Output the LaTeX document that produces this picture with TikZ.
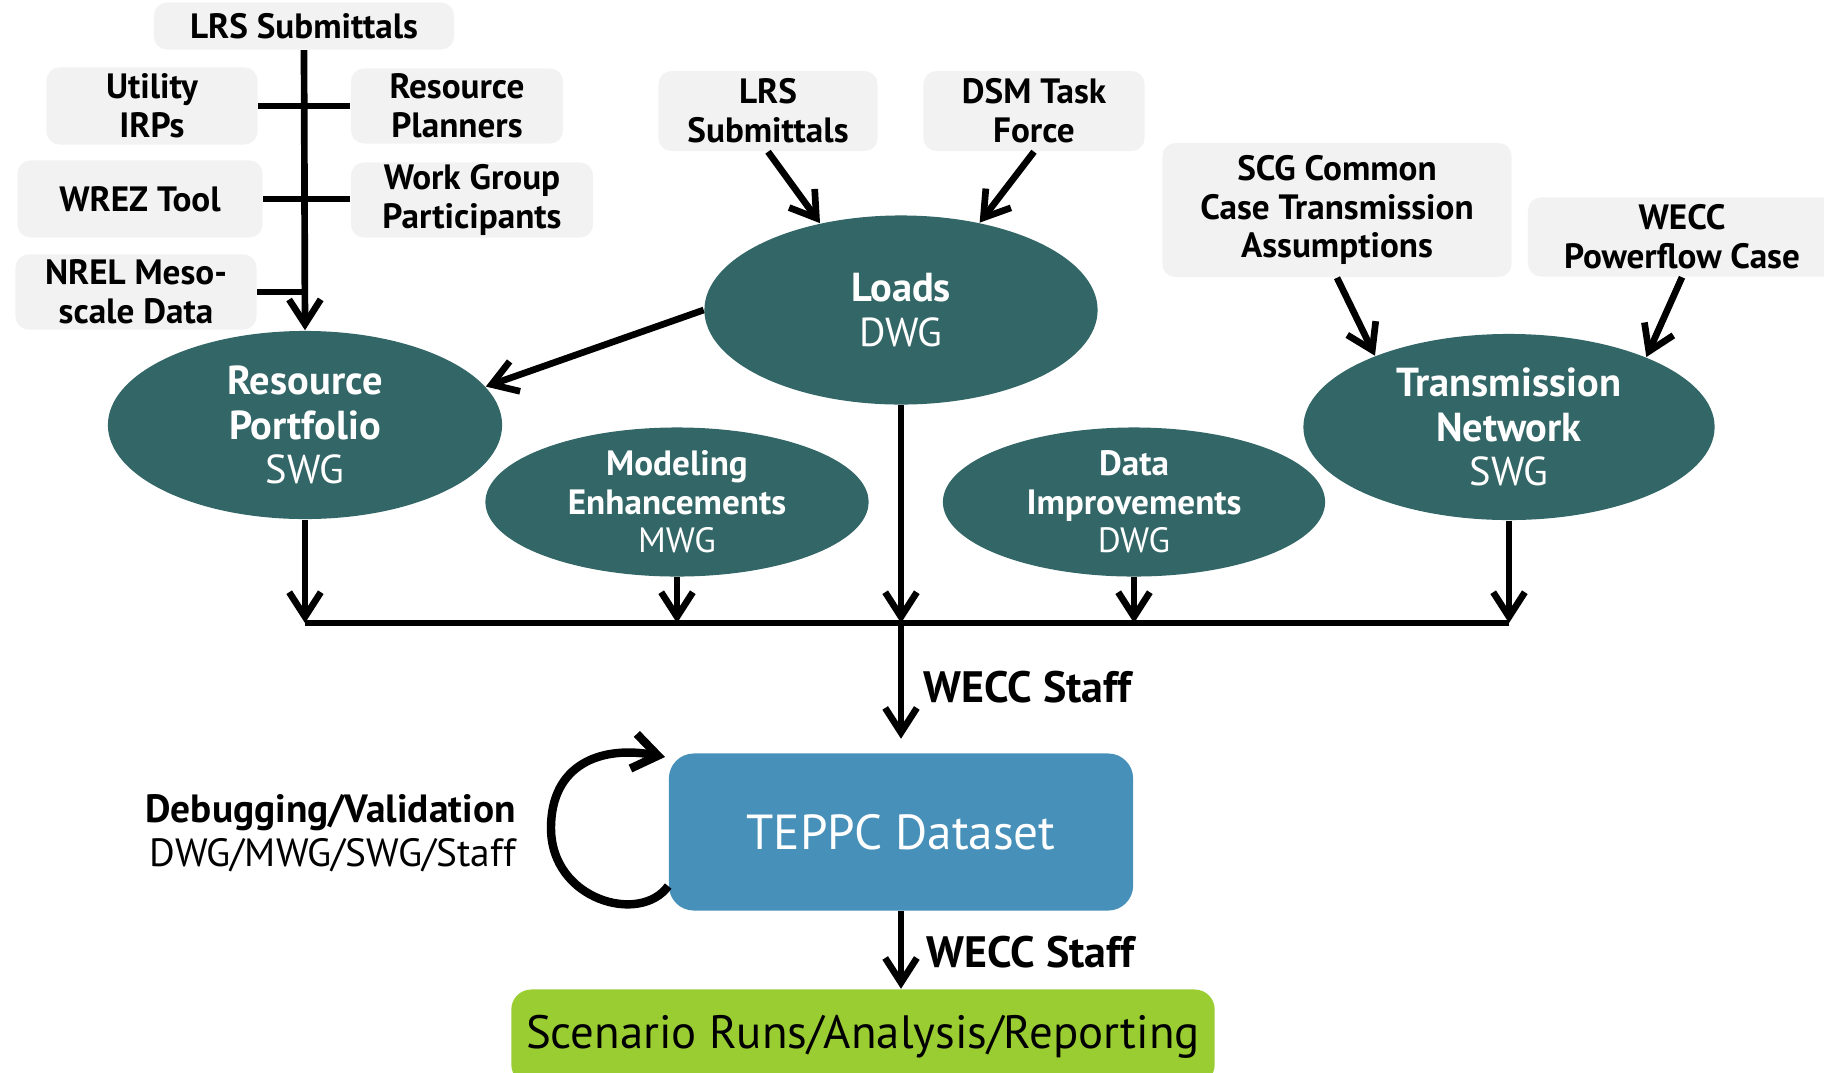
\documentclass[tikz,border=0pt]{standalone}
\usepackage{fontspec}
\setmainfont{PT Sans}
\usetikzlibrary{shapes.geometric,arrows.meta}

\definecolor{tealfill}{RGB}{51,102,102}
\definecolor{datasetblue}{RGB}{70,144,185}
\definecolor{scengreen}{RGB}{154,205,50}
\definecolor{boxgray}{RGB}{242,242,242}

\begin{document}
\begin{tikzpicture}[
    x=0.01cm, y=-0.01cm,
    source/.style={
        rectangle,
        rounded corners=0.13cm,
        fill=boxgray,
        align=center,
        inner sep=0pt,
        font=\bfseries\fontsize{10}{11}\selectfont
    },
    group/.style={
        ellipse,
        fill=tealfill,
        text=white,
        align=center,
        inner sep=0pt,
        font=\fontsize{11.5}{12.6}\selectfont
    },
    smallgroup/.style={
        group,
        font=\fontsize{10}{10.9}\selectfont
    },
    flow/.style={line width=1.9pt, -{Straight Barb[length=7pt,width=9pt,line width=1.9pt]}},
    tie/.style={line width=1.9pt},
    staff/.style={font=\bfseries\fontsize{12.5}{14}\selectfont}
]

\useasboundingbox (0,0) rectangle (1824,1072);

\node[source, minimum width=3cm, minimum height=0.47cm] (lrsa) at (304,26) {LRS Submittals};
\node[source, minimum width=2.11cm, minimum height=0.77cm] (irp) at (152,106) {Utility\\IRPs};
\node[source, minimum width=2.12cm, minimum height=0.75cm] (planners) at (457,106) {Resource\\Planners};
\node[source, minimum width=2.45cm, minimum height=0.77cm] (wrez) at (140,199) {WREZ Tool};
\node[source, minimum width=2.42cm, minimum height=0.75cm] (wgp) at (472,200) {Work Group\\Participants};
\node[source, minimum width=2.41cm, minimum height=0.75cm] (nrel) at (136,292) {NREL Meso-\\scale Data};
\node[source, minimum width=2.19cm, minimum height=0.8cm] (lrsb) at (768,111) {LRS\\Submittals};
\node[source, minimum width=2.21cm, minimum height=0.8cm] (dsm) at (1034,111) {DSM Task\\Force};
\node[source, minimum width=3.49cm, minimum height=1.34cm] (scg) at (1337,210) {SCG Common\\Case Transmission\\Assumptions};
\node[source, minimum width=3.08cm, minimum height=0.79cm] (wecc) at (1682,237) {WECC\\Powerflow Case};

\node[group, minimum width=3.94cm, minimum height=1.88cm] (rp) at (305,425) {\textbf{Resource}\\\textbf{Portfolio}\\SWG};
\node[group, minimum width=3.93cm, minimum height=1.89cm] (loads) at (901,310) {\textbf{Loads}\\DWG};
\node[smallgroup, minimum width=3.83cm, minimum height=1.49cm] (me) at (677,502) {\textbf{Modeling}\\\textbf{Enhancements}\\MWG};
\node[smallgroup, minimum width=3.82cm, minimum height=1.49cm] (di) at (1134,502) {\textbf{Data}\\\textbf{Improvements}\\DWG};
\node[group, minimum width=4.11cm, minimum height=1.86cm] (tn) at (1509,427) {\textbf{Transmission}\\\textbf{Network}\\SWG};

\node[rectangle, rounded corners=0.25cm, fill=datasetblue, text=white, minimum width=4.64cm, minimum height=1.57cm,
    font=\fontsize{14}{16}\selectfont] (teppc) at (901,832) {TEPPC Dataset};
\node[rectangle, rounded corners=0.2cm, fill=scengreen, minimum width=7.03cm, minimum height=0.95cm,
    font=\fontsize{13.3}{16}\selectfont] (scen) at (863,1037) {Scenario Runs/Analysis/Reporting};

\node[align=right, anchor=east, font=\fontsize{11.2}{12.5}\selectfont] (debug) at (528,833) {\textbf{Debugging/Validation}\\DWG/MWG/SWG/Staff};
\node[staff, anchor=west] (staffa) at (911,687) {WECC Staff};
\node[staff, anchor=west] (staffb) at (914,952) {WECC Staff};

\coordinate (busl) at (305,623);
\coordinate (busr) at (1509,623);
\coordinate (loopend) at (665,757);

\draw[flow] (lrsa.south) -- (rp.north);
\draw[tie] (irp.east) -- (planners.west);
\draw[tie] (wrez.east) -- (wrez.east -| wgp.west);
\draw[tie] (nrel.east) -- (nrel.east -| lrsa.south);

\draw[flow] (lrsb.south) -- (loads.133);
\draw[flow] (dsm.south) -- (loads.48);
\draw[flow] (loads.west) -- (rp.12);
\draw[flow] (scg.south) -- (tn.152);
\draw[flow] (wecc.south) -- (tn.27);

\draw[tie] (busl) -- (busr);
\draw[flow] (rp.south) -- (rp.south |- busl);
\draw[flow] (me.south) -- (me.south |- busl);
\draw[flow] (loads.south) -- (loads.south |- busl);
\draw[flow] (di.south) -- (di.south |- busl);
\draw[flow] (tn.south) -- (tn.south |- busl);
\draw[flow, shorten >=0.14cm] (loads.south |- busl) -- (teppc.north);
\draw[flow] (teppc.south) -- (teppc.south |- scen.north);

\draw[line width=2.4pt, -{Straight Barb[length=7pt,width=10pt,line width=2.4pt]}]
    ([yshift=-0.54cm]teppc.west) .. controls (640,925) and (551,900) .. (551,828)
    .. controls (551,765) and (600,745) .. (loopend);

\end{tikzpicture}
\end{document}
